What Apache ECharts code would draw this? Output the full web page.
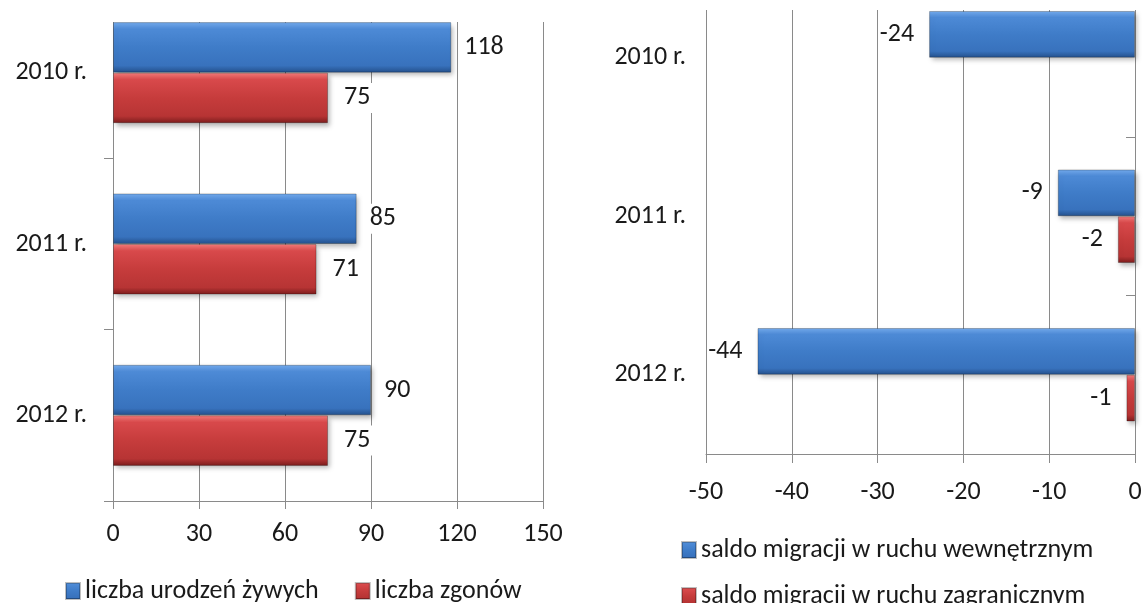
<!DOCTYPE html>
<html>
<head>
<meta charset="utf-8">
<script src="https://cdn.jsdelivr.net/npm/echarts@6/dist/echarts.min.js"></script>
<style>
html,body{margin:0;padding:0;background:#fff;}
#chart{width:1144px;height:603px;}
</style>
</head>
<body>
<div id="chart"></div>
<script>
// dane
var years = ['2010 r.', '2011 r.', '2012 r.'];
var births = [118, 85, 90];
var deaths = [75, 71, 75];
var migInternal = [-24, -9, -44];
var migForeign = [null, -2, -1];
var ticksLeft = [0, 150, 30];
var ticksRight = [-50, 0, 10];

var FONT = 'Calibri, Carlito, Lato, sans-serif';
var FS = 26;
var TXT = '#1a1a1a';
var LINE = '#8a8a8a';

function blue() {
	return new echarts.graphic.LinearGradient(0, 0, 0, 1, [
		{offset: 0, color: '#74acee'},
		{offset: 0.14, color: '#4d8ad6'},
		{offset: 0.5, color: '#3f7cc8'},
		{offset: 0.86, color: '#3872bd'},
		{offset: 1, color: '#234f8a'}
	]);
}
function red() {
	return new echarts.graphic.LinearGradient(0, 0, 0, 1, [
		{offset: 0, color: '#f47c7a'},
		{offset: 0.14, color: '#d8494b'},
		{offset: 0.5, color: '#c63c3c'},
		{offset: 0.86, color: '#b73434'},
		{offset: 1, color: '#7a1c1c'}
	]);
}
function barStyle(c) {
	return {color: c, borderColor: 'rgba(0,0,0,0.25)', borderWidth: 1,
		shadowBlur: 5, shadowOffsetX: 2, shadowOffsetY: 3, shadowColor: 'rgba(0,0,0,0.3)'};
}
function legendAt(left, top, names, gap) {
	return {
		left: left, top: top, orient: 'horizontal',
		itemWidth: 14, itemHeight: 16, itemGap: gap || 10,
		icon: 'rect',
		textStyle: {fontFamily: FONT, fontSize: FS, color: TXT},
		data: names
	};
}

var option = {
	animation: false,
	textStyle: {fontFamily: FONT, color: TXT},
	grid: [
		{left: 113, right: 601, top: -13, bottom: 102, outerBoundsMode: 'none'},
		{left: 706, right: 9, top: -21.5, bottom: 149, outerBoundsMode: 'none'}
	],
	legend: [
		legendAt(60, 573, ['liczba urodzeń żywych', 'liczba zgonów'], 36),
		legendAt(676, 532, ['saldo migracji w ruchu wewnętrznym']),
		legendAt(676, 578, ['saldo migracji w ruchu zagranicznym'])
	],
	xAxis: [{
		gridIndex: 0, type: 'value',
		min: ticksLeft[0], max: ticksLeft[1], interval: ticksLeft[2],
		axisLine: {show: true, lineStyle: {color: LINE}},
		axisTick: {show: true, length: 8, lineStyle: {color: LINE}},
		axisLabel: {fontFamily: FONT, fontSize: FS, color: TXT, margin: 20},
		splitLine: {show: true, lineStyle: {color: LINE}}
	}, {
		gridIndex: 1, type: 'value',
		min: ticksRight[0], max: ticksRight[1], interval: ticksRight[2],
		axisLine: {show: true, onZero: false, lineStyle: {color: LINE}},
		axisTick: {show: true, length: 9, lineStyle: {color: LINE}},
		axisLabel: {fontFamily: FONT, fontSize: FS, color: TXT, margin: 25},
		splitLine: {show: true, lineStyle: {color: LINE}}
	}],
	yAxis: [{
		gridIndex: 0, type: 'category', data: years, inverse: true,
		axisLine: {show: true, lineStyle: {color: LINE}},
		axisTick: {show: true, length: 9, lineStyle: {color: LINE}},
		axisLabel: {fontFamily: FONT, fontSize: FS, color: TXT, margin: 26}
	}, {
		gridIndex: 1, type: 'category', data: years, inverse: true,
		position: 'left',
		axisLine: {show: false, onZero: false},
		axisTick: {show: false},
		axisLabel: {fontFamily: FONT, fontSize: FS, color: TXT, margin: 20}
	}, {
		gridIndex: 1, type: 'category', data: years, inverse: true,
		position: 'right',
		axisLine: {show: true, onZero: false, lineStyle: {color: LINE}},
		axisTick: {show: true, inside: true, length: 9, lineStyle: {color: LINE}},
		axisLabel: {show: false}
	}],
	series: [{
		name: 'liczba urodzeń żywych', type: 'bar',
		xAxisIndex: 0, yAxisIndex: 0,
		data: births,
		barGap: 0, barCategoryGap: '41%',
		itemStyle: barStyle(blue()),
		label: {show: true, position: 'right', distance: 9, fontFamily: FONT, fontSize: FS, color: TXT,
			backgroundColor: '#fff', padding: [2, 4]}
	}, {
		name: 'liczba zgonów', type: 'bar',
		xAxisIndex: 0, yAxisIndex: 0,
		data: deaths,
		barGap: 0, barCategoryGap: '41%',
		itemStyle: barStyle(red()),
		label: {show: true, position: 'right', distance: 12, fontFamily: FONT, fontSize: FS, color: TXT,
			backgroundColor: '#fff', padding: [2, 4]}
	}, {
		name: 'saldo migracji w ruchu wewnętrznym', type: 'bar',
		xAxisIndex: 1, yAxisIndex: 1,
		data: migInternal,
		barGap: 0, barCategoryGap: '41%',
		itemStyle: barStyle(blue()),
		label: {show: true, position: 'left', distance: 15, fontFamily: FONT, fontSize: FS, color: TXT}
	}, {
		name: 'saldo migracji w ruchu zagranicznym', type: 'bar',
		xAxisIndex: 1, yAxisIndex: 1,
		data: migForeign,
		barGap: 0, barCategoryGap: '41%',
		itemStyle: barStyle(red()),
		label: {show: true, position: 'left', distance: 15, fontFamily: FONT, fontSize: FS, color: TXT}
	}],
	// obraz oryginalny jest przyciety u gory
	graphic: [
		{type: 'rect', z: 100, shape: {x: 90, y: 0, width: 480, height: 22}, style: {fill: '#fff'}},
		{type: 'rect', z: 100, shape: {x: 690, y: 0, width: 454, height: 10}, style: {fill: '#fff'}}
	]
};

var myChart = echarts.init(document.getElementById('chart'));
myChart.setOption(option, true);
</script>
</body>
</html>
